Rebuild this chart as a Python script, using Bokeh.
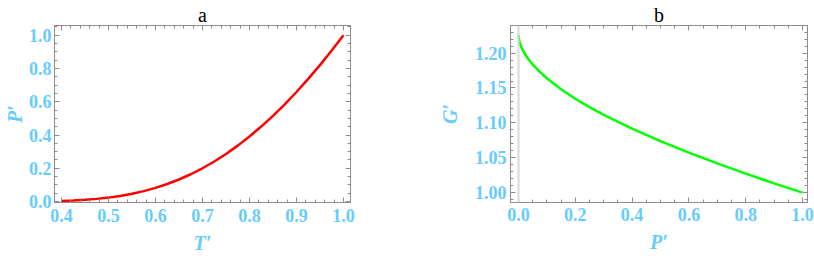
from bokeh.plotting import figure
from bokeh.models import (LinearAxis, SingleIntervalTicker, PrintfTickFormatter,
                          CustomJSTickFormatter, Span, Range1d)
from bokeh.layouts import row
from bokeh.embed import file_html
from bokeh.resources import INLINE

# ---- data ----
T_prime = [0.400, 0.425, 0.450, 0.475, 0.500, 0.525, 0.550, 0.575, 0.600, 0.625,
           0.650, 0.675, 0.700, 0.725, 0.750, 0.775, 0.800, 0.825, 0.850, 0.875,
           0.900, 0.925, 0.950, 0.975, 1.000]
P_prime_a = [0.0036, 0.0062, 0.0102, 0.0158, 0.0234, 0.0335, 0.0463, 0.0623, 0.0818, 0.1051,
             0.1324, 0.1640, 0.2000, 0.2407, 0.2860, 0.3362, 0.3911, 0.4509, 0.5155, 0.5849,
             0.6589, 0.7375, 0.8207, 0.9082, 1.0000]

P_prime_b = [0.0, 0.002, 0.005, 0.01, 0.02, 0.035, 0.05, 0.075, 0.1, 0.15,
             0.2, 0.25, 0.3, 0.4, 0.5, 0.6, 0.7, 0.8, 0.9, 1.0]
G_prime_b = [1.226, 1.2190, 1.2140, 1.2085, 1.2005, 1.1912, 1.1837, 1.1732, 1.1640, 1.1482,
             1.1346, 1.1225, 1.1115, 1.0917, 1.0737, 1.0572, 1.0418, 1.0272, 1.0133, 1.000]

titles = ["a", "b"]
x_labels = ["T\u2032", "P\u2032"]
y_labels = ["P\u2032", "G\u2032"]

BLUE = "#66CCFF"
FRAME = "#8c8c8c"
FONT = "Liberation Serif"


def style_axis(ax, blank=False):
    ax.axis_line_color = FRAME
    ax.major_tick_line_color = FRAME
    ax.minor_tick_line_color = FRAME
    ax.major_tick_in = 5
    ax.major_tick_out = 0
    ax.minor_tick_in = 3
    ax.minor_tick_out = 0
    ax.major_label_text_font = FONT
    ax.major_label_text_font_style = "bold"
    ax.major_label_text_font_size = "18px"
    ax.major_label_text_color = BLUE
    ax.axis_label_text_font = FONT
    ax.axis_label_text_font_style = "bold italic"
    ax.axis_label_text_font_size = "20px"
    ax.axis_label_text_color = BLUE
    if blank:
        ax.formatter = CustomJSTickFormatter(code="return ''")
        ax.major_label_standoff = 0
        ax.major_label_text_font_size = "0px"


def panel(x, y, color, xr, yr, xint, xminor, yint, yminor, xfmt, yfmt,
          width, bl, br, bb, title, xlabel, ylabel, ylab_standoff, ytick_stand,
          xstand, xlab_stand):
    p = figure(width=width, height=256, x_range=Range1d(*xr), y_range=Range1d(*yr),
               output_backend="svg", toolbar_location=None,
               x_axis_location=None, y_axis_location=None,
               min_border_left=bl, min_border_right=br, min_border_top=22,
               min_border_bottom=bb)
    p.grid.visible = False
    p.outline_line_color = FRAME
    p.background_fill_color = "white"
    p.border_fill_color = "white"

    xt = SingleIntervalTicker(interval=xint, num_minor_ticks=xminor)
    yt = SingleIntervalTicker(interval=yint, num_minor_ticks=yminor)

    bottom = LinearAxis(ticker=xt, formatter=PrintfTickFormatter(format=xfmt),
                        axis_label=xlabel)
    style_axis(bottom)
    bottom.major_label_standoff = xstand
    bottom.axis_label_standoff = xlab_stand
    left = LinearAxis(ticker=yt, formatter=PrintfTickFormatter(format=yfmt),
                      axis_label=ylabel)
    style_axis(left)
    left.major_label_standoff = ytick_stand
    left.axis_label_standoff = ylab_standoff
    top = LinearAxis(ticker=xt, axis_label=title)
    style_axis(top, blank=True)
    top.axis_label_text_color = "black"
    top.axis_label_text_font_style = "normal"
    top.axis_label_standoff = 0
    right = LinearAxis(ticker=yt)
    style_axis(right, blank=True)

    p.add_layout(bottom, "below")
    p.add_layout(left, "left")
    p.add_layout(top, "above")
    p.add_layout(right, "right")

    p.line(x, y, line_color=color, line_width=2.5)
    return p


pa = panel(T_prime, P_prime_a, "#FF0000", (0.385, 1.015), (-0.006, 1.059),
           0.1, 5, 0.2, 4, "%.1f", "%.1f",
           400, 54, 50, 54, titles[0], x_labels[0], y_labels[0], 0, 3, 6, 7)

pb = panel(P_prime_b, G_prime_b, "#00FF00", (-0.0282, 1.0176), (0.9858, 1.2396),
           0.2, 4, 0.05, 5, "%.1f", "%.2f",
           414, 110, 7, 50, titles[1], x_labels[1], y_labels[1], 11, 4, 5, 7)
pb.add_layout(Span(location=0, dimension="height", line_color="#d8d8d8", line_width=2))

layout = row(pa, pb)
open("out.html", "w").write(file_html(layout, INLINE))
